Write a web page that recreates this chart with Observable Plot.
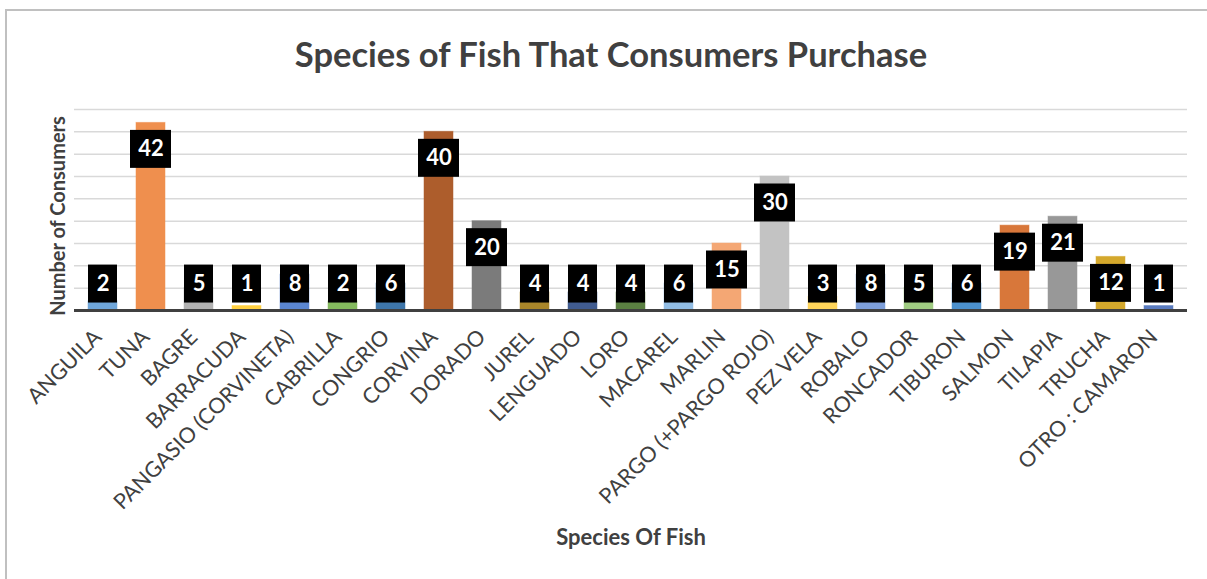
<!DOCTYPE html>
<html>
<head>
<meta charset="utf-8">
<script src="https://cdn.jsdelivr.net/npm/d3@7"></script>
<script src="https://cdn.jsdelivr.net/npm/@observablehq/plot@0.6"></script>
<style>
  html, body { margin: 0; padding: 0; background: #fff; }
  body { width: 1207px; height: 579px; position: relative; overflow: hidden; font-family: Lato, "Open Sans", sans-serif; }
  #frame { position: absolute; left: 5px; top: 9px; width: 1220px; height: 600px; border: 2px solid #C0C0C0; box-sizing: border-box; }
  #title { position: absolute; left: 0; top: 37px; width: 1222px; text-align: center; font-weight: 700; font-size: 34.5px; line-height: 34.5px; color: #404040; }
  #chart { position: absolute; left: 0; top: 90px; }
</style>
</head>
<body>
<div id="frame"></div>
<div id="title">Species of Fish That Consumers Purchase</div>
<div id="chart"></div>
<script>
const species = ["ANGUILA","TUNA","BAGRE","BARRACUDA","PANGASIO (CORVINETA)","CABRILLA","CONGRIO","CORVINA","DORADO","JUREL","LENGUADO","LORO","MACAREL","MARLIN","PARGO (+PARGO ROJO)","PEZ VELA","ROBALO","RONCADOR","TIBURON","SALMON","TILAPIA","TRUCHA","OTRO : CAMARON"];
const consumers = [2,42,5,1,8,2,6,40,20,4,4,4,6,15,30,3,8,5,6,19,21,12,1];
const barColors = ["#6FA6DA","#EF8F4E","#B2B2B2","#FFD040","#5B86D0","#84BA5E","#3E76AA","#AD5D2C","#7B7B7B","#A9862A","#415C90","#5B8042","#92BDE4","#F4A774","#C3C3C3","#FFD55A","#7E9FDA","#A0CC82","#4C91CE","#D8773A","#989898","#D4A82C","#5A7BBF"];
const gridValues = [5,10,15,20,25,30,35,40,45];
const yDomain = [0, 45];
const xTitle = "Species Of Fish";
const yTitle = "Number of Consumers";

const data = species.map((s, i) => ({name: s, value: consumers[i], color: barColors[i]}));

// data-label placement: inside end of bar, clamped near the base
const labelRef = d => Math.max(d.value, 11.85);
const boxTop = d => labelRef(d) - 1.68;
const boxBottom = d => labelRef(d) - 10.18;
const labelMid = d => labelRef(d) - 5.93;

const font = "Lato, 'Open Sans', sans-serif";

const chart = Plot.plot({
  width: 1207,
  height: 489,
  marginTop: 19,
  marginBottom: 269,
  marginLeft: 74,
  marginRight: 20,
  style: {fontFamily: font, background: "transparent", overflow: "visible"},
  x: {domain: species, paddingInner: 0.4, paddingOuter: 0.2, axis: null},
  y: {domain: yDomain, axis: null},
  marks: [
    Plot.gridY(gridValues, {stroke: "#D9D9D9", strokeOpacity: 1, strokeWidth: 1.5}),
    Plot.barY(data, {x: "name", y: "value", fill: "color", stroke: "color", strokeOpacity: 0.5}),
    Plot.ruleY([0], {stroke: "#404040", strokeWidth: 3}),
    Plot.barY(data.filter(d => d.value < 10), {x: "name", y1: boxBottom, y2: boxTop, fill: "black"}),
    Plot.barY(data.filter(d => d.value >= 10), {x: "name", y1: boxBottom, y2: boxTop, fill: "black", insetLeft: -6, insetRight: -6}),
    Plot.text(data, {x: "name", y: labelMid, text: d => String(d.value), fill: "white", fontSize: 22, fontWeight: 700, lineAnchor: "middle", fontFamily: font}),
    Plot.axisX({tickRotate: -45, tickSize: 0, tickPadding: 23, dx: -5, fontSize: 21.5, fill: "#404040", label: null, textAnchor: "end", lineAnchor: "middle"}),
    Plot.text([xTitle], {frameAnchor: "bottom", dy: 234, fontSize: 22, fontWeight: 700, fill: "#404040", fontFamily: font}),
    Plot.text([yTitle], {frameAnchor: "left", dx: -16, dy: 6, rotate: -90, textAnchor: "middle", fontSize: 20, fontWeight: 700, fill: "#404040", fontFamily: font})
  ]
});
document.getElementById("chart").appendChild(chart);
</script>
</body>
</html>
